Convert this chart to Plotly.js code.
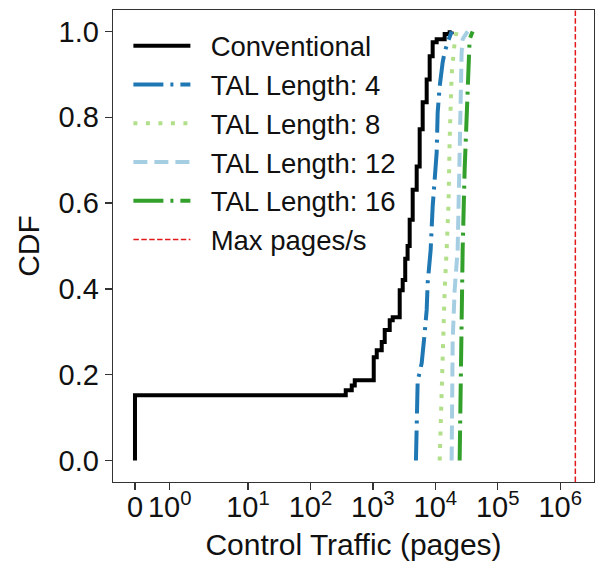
<!DOCTYPE html>
<html>
<head>
<meta charset="utf-8">
<script src="https://cdn.plot.ly/plotly-3.0.1.min.js"></script>
<style>html,body{margin:0;padding:0;background:#fff;}#chart{width:597px;height:567px;}</style>
</head>
<body>
<div id="chart"></div>
<script>
// ---- data (x = control traffic in pages, y = CDF) ----
const convX = [0, 0, 368, 459, 513, 1033, 1154, 1387, 1549, 1862, 2080, 2692, 3006, 3300, 3600, 3890, 4345, 5035, 5623, 6281, 7278, 8128, 9078, 10520, 14130, 16980, 18280];
const convY = [0, 0.152, 0.164, 0.175, 0.187, 0.241, 0.257, 0.276, 0.304, 0.327, 0.334, 0.397, 0.421, 0.47, 0.5, 0.561, 0.631, 0.685, 0.772, 0.835, 0.888, 0.942, 0.975, 0.982, 0.994, 0.998, 1.0];

const tal4X = [4900, 5224, 5500, 6053, 6761, 7278, 7551, 8430, 9078, 10520, 10915, 11750, 13120, 14130, 15780, 16980, 18280];
const tal4Y = [0, 0.187, 0.2, 0.227, 0.297, 0.351, 0.414, 0.491, 0.592, 0.718, 0.811, 0.872, 0.928, 0.952, 0.975, 0.989, 1.0];

const tal8X = [11750, 12650, 13120, 14130, 15200, 16300, 17000, 18280, 20420, 21980];
const tal8Y = [0, 0.164, 0.297, 0.397, 0.491, 0.6, 0.75, 0.9, 0.975, 1.0];

const tal12X = [18280, 18970, 18970, 20420, 21980, 22800, 24550, 25470, 26420, 27420, 32960];
const tal12Y = [0, 0.18, 0.28, 0.397, 0.468, 0.491, 0.718, 0.872, 0.952, 0.982, 1.0];

const tal16X = [24550, 25470, 27420, 27420, 29520, 31770, 32960, 34200, 35480, 38200, 39630];
const tal16Y = [0, 0.18, 0.367, 0.491, 0.678, 0.795, 0.912, 0.952, 0.982, 0.994, 1.0];

const maxPages = 1750000;

const seriesNames = ["Conventional", "TAL Length: 4", "TAL Length: 8", "TAL Length: 12", "TAL Length: 16", "Max pages/s"];
const xTickValues = [0, 1, 10, 100, 1000, 10000, 100000, 1000000];
const xTickLabels = ["0", "10<sup>0</sup>", "10<sup>1</sup>", "10<sup>2</sup>", "10<sup>3</sup>", "10<sup>4</sup>", "10<sup>5</sup>", "10<sup>6</sup>"];
const yTickValues = [0, 0.2, 0.4, 0.6, 0.8, 1.0];

// ---- symlog scale (linthresh = 2, linscale = 1, base 10) ----
const LINTHRESH = 2, LINSCALE_ADJ = 1 / (1 - 1 / 10);
function symlog(v) {
  const a = Math.abs(v);
  const s = v < 0 ? -1 : 1;
  if (a <= LINTHRESH) return v * LINSCALE_ADJ / LINTHRESH;
  return s * (LINSCALE_ADJ + Math.log10(a / LINTHRESH));
}
const tx = arr => arr.map(symlog);
const pad = s => "\u00a0\u00a0" + s;

const FONT = "Liberation Sans, Arial, sans-serif";
const traces = [
  {x: tx(convX), y: convY, name: pad(seriesNames[0]), mode: "lines", line: {color: "#000000", width: 4, shape: "hv"}},
  {x: tx(tal4X), y: tal4Y, name: pad(seriesNames[1]), mode: "lines", line: {color: "#1f78b4", width: 4, dash: "30px,7px,3px,7px"}},
  {x: tx(tal8X), y: tal8Y, name: pad(seriesNames[2]), mode: "lines", line: {color: "#b2df8a", width: 4, dash: "4px,8.5px"}},
  {x: tx(tal12X), y: tal12Y, name: pad(seriesNames[3]), mode: "lines", line: {color: "#a6cee3", width: 4, dash: "14px,7px"}},
  {x: tx(tal16X), y: tal16Y, name: pad(seriesNames[4]), mode: "lines", line: {color: "#33a02c", width: 4, dash: "30px,7px,3px,7px"}},
  {x: [symlog(maxPages), symlog(maxPages)], y: [-0.05, 1.05], name: pad(seriesNames[5]), mode: "lines", line: {color: "#e31a1c", width: 1.5, dash: "5.5px,2.4px"}}
];

const axisCommon = {
  showgrid: false, zeroline: false, showline: true, mirror: true,
  linecolor: "#333333", linewidth: 1.3,
  ticks: "outside", ticklen: 7, tickwidth: 1.3, tickcolor: "#333333",
  tickfont: {family: FONT, size: 29, color: "#111"}
};

const layout = {
  width: 597, height: 567,
  margin: {l: 113, r: 3, t: 10, b: 85},
  paper_bgcolor: "#ffffff", plot_bgcolor: "#ffffff",
  font: {family: FONT, size: 29, color: "#111"},
  showlegend: true,
  legend: {x: 0.032, y: 0.976, xanchor: "left", yanchor: "top", bgcolor: "rgba(255,255,255,0)", borderwidth: 0,
           font: {family: FONT, size: 27.5, color: "#111"}, itemwidth: 57, tracegroupgap: 0},
  xaxis: Object.assign({}, axisCommon, {
    range: [-0.352, 7.352],
    tickmode: "array", tickvals: tx(xTickValues), ticktext: xTickLabels,
    ticklabelstandoff: -8,
    title: {text: "Control Traffic (pages)", font: {family: FONT, size: 30, color: "#111"}, standoff: 12}
  }),
  yaxis: Object.assign({}, axisCommon, {
    range: [-0.05, 1.05],
    tickmode: "array", tickvals: yTickValues, ticktext: yTickValues.map(v => v.toFixed(1)),
    title: {text: "CDF", font: {family: FONT, size: 30, color: "#111"}, standoff: 10}
  })
};

Plotly.newPlot("chart", traces, layout, {displayModeBar: false, staticPlot: true});
</script>
</body>
</html>
